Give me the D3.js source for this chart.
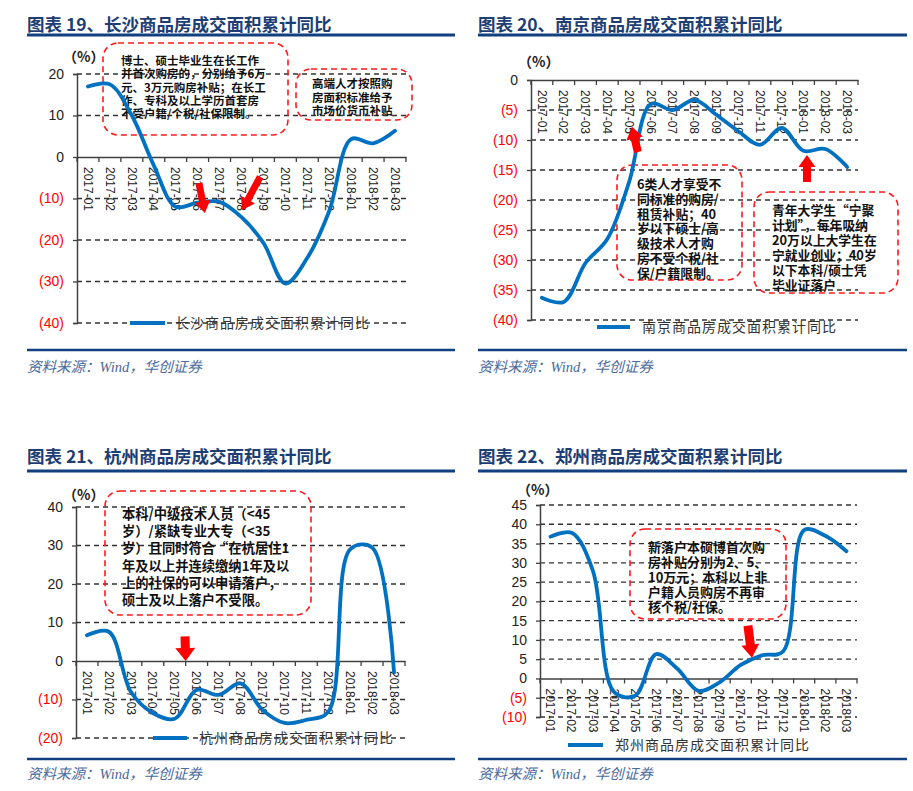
<!DOCTYPE html>
<html><head><meta charset="utf-8">
<script src="https://cdn.jsdelivr.net/npm/d3@7"></script>
<style>body{margin:0;background:#fff}svg{display:block}</style>
</head><body><svg id="c" width="913" height="791"></svg>
<script>
const categories = ["2017-01","2017-02","2017-03","2017-04","2017-05","2017-06","2017-07","2017-08","2017-09","2017-10","2017-11","2017-12","2018-01","2018-02","2018-03"];
const changshaValues = [17, 17.5, 10, -2, -12, -11, -10.8, -14.5, -20.7, -30.5, -24.3, -13, 4.3, 3.3, 6.3];
const nanjingValues = [-36.3, -37, -30.5, -26.5, -17, -4, -5, -3.3, -5.8, -8.5, -10.8, -8, -11.8, -11.5, -14.5];
const hangzhouValues = [6.7, 7.6, -8, -13.5, -15, -7.5, -8.8, -5.8, -12.7, -16.1, -15.3, -13.2, 29, 29.5, -3];
const zhengzhouValues = [36.8, 37.8, 28, -3.5, -4.5, 6.3, 2.5, -3.2, -1, 3.5, 6, 7, 38.5, 37, 33];
const changshaTicks = [20, 10, 0, -10, -20, -30, -40];
const nanjingTicks = [0, -5, -10, -15, -20, -25, -30, -35, -40];
const hangzhouTicks = [40, 30, 20, 10, 0, -10, -20];
const zhengzhouTicks = [45, 40, 35, 30, 25, 20, 15, 10, 5, 0, -5, -10];
const titles = ["图表 19、长沙商品房成交面积累计同比","图表 20、南京商品房成交面积累计同比","图表 21、杭州商品房成交面积累计同比","图表 22、郑州商品房成交面积累计同比"];
const seriesNames = ["长沙商品房成交面积累计同比","南京商品房成交面积累计同比","杭州商品房成交面积累计同比","郑州商品房成交面积累计同比"];
const sourceText = "资料来源：Wind，华创证券";
const unitText = "（%）";
const notes1a = ["博士、硕士毕业生在长工作","并首次购房的，分别给予6万","元、3万元购房补贴；在长工","作、专科及以上学历首套房","不受户籍/个税/社保限制。"];
const notes1b = ["高端人才按照购","房面积标准给予","市场价货币补贴"];
const notes2a = ["6类人才享受不","同标准的购房/","租赁补贴；40","岁以下硕士/高","级技术人才购","房不受个税/社","保/户籍限制。"];
const notes2b = ["青年大学生“宁聚","计划”，每年吸纳","20万以上大学生在","宁就业创业；40岁","以下本科/硕士凭","毕业证落户"];
const notes3 = ["本科/中级技术人员（<45","岁）/紧缺专业大专（<35","岁）且同时符合“在杭居住1","年及以上并连续缴纳1年及以","上的社保的可以申请落户，","硕士及以上落户不受限。"];
const notes4 = ["新落户本硕博首次购","房补贴分别为2、5、","10万元；本科以上非","户籍人员购房不再审","核个税/社保。"];
// arrows: [tailIndex, tailValue, tipIndex, tipValue]
const arrows1 = [[5.06, -6.3, 5.33, -13.5], [7.85, -4.8, 7.03, -12.8]];
const arrows2 = [[4.4, -12, 4.13, -7.8], [12.16, -17, 12.16, -12.5]];
const arrows3 = [[4.47, 6.4, 4.5, 0]];
const arrows4 = [[9.34, 13.7, 9.53, 5.4]];

const svg = d3.select("#c");
const NAVY = "#1d3e74", BLUE = "#0070C0";
const CJK = "'Noto Sans CJK SC','Noto Sans',sans-serif";

const panels = [
  {title:titles[0], tx:27, ty:31, ruleY:35, ruleX:[27,455], left:77, right:406, top:74, bottom:323, domain:[-40,20], ticks:changshaTicks, values:changshaValues, unit:[63,62], leg:[130,165,323,175], name:seriesNames[0], sepY:350, srcY:372,
   boxes:[{x:103,y:43,w:185,h:92,tx:121,ty:65,lh:13.25,fs:11.5,lines:notes1a},{x:296,y:69,w:116,h:51,tx:312,ty:88,lh:13.5,fs:11.5,lines:notes1b}], arrows:arrows1, aw:[7,16,12]},
  {title:titles[1], tx:478, ty:31, ruleY:35, ruleX:[478,907], left:531, right:858, top:80, bottom:320, domain:[-40,0], ticks:nanjingTicks, values:nanjingValues, unit:[518,67], leg:[597,630,327,642], name:seriesNames[1], sepY:350, srcY:372,
   boxes:[{x:617,y:165,w:125,h:115,tx:637,ty:189,lh:14.8,fs:12.8,lines:notes2a},{x:754,y:192,w:144,h:101,tx:772,ty:215,lh:15,fs:12.8,lines:notes2b}], arrows:arrows2, aw:[8,17,12]},
  {title:titles[2], tx:27, ty:463, ruleY:471, ruleX:[27,455], left:76, right:405, top:507, bottom:738, domain:[-20,40], ticks:hangzhouTicks, values:hangzhouValues, unit:[63,500], leg:[153,187,738,199], name:seriesNames[2], sepY:759, srcY:779,
   boxes:[{x:105,y:491,w:206,h:124,tx:122,ty:519,lh:17.2,fs:13.3,lines:notes3}], arrows:arrows3, aw:[9,20,13]},
  {title:titles[3], tx:478, ty:463, ruleY:471, ruleX:[478,907], left:540, right:857, top:505, bottom:717, domain:[-10,45], ticks:zhengzhouTicks, values:zhengzhouValues, unit:[517,495], leg:[568,603,745,615], name:seriesNames[3], sepY:759, srcY:779,
   boxes:[{x:630,y:529,w:156,h:90,tx:648,ty:552,lh:15,fs:13,lines:notes4}], arrows:arrows4, aw:[9,18,13]}
];

function arrowPath(x1,y1,x2,y2,sw,hw,hl){
  const dx=x2-x1, dy=y2-y1, L=Math.hypot(dx,dy), ux=dx/L, uy=dy/L, px=-uy, py=ux;
  const bx=x2-ux*hl, by=y2-uy*hl;
  const pts=[[x1+px*sw/2,y1+py*sw/2],[bx+px*sw/2,by+py*sw/2],[bx+px*hw/2,by+py*hw/2],[x2,y2],[bx-px*hw/2,by-py*hw/2],[bx-px*sw/2,by-py*sw/2],[x1-px*sw/2,y1-py*sw/2]];
  return "M"+pts.map(p=>p.join(",")).join("L")+"Z";
}

panels.forEach(p=>{
  const g = svg.append("g");
  g.append("text").attr("x",p.tx).attr("y",p.ty).text(p.title)
    .attr("font-family",CJK).attr("font-weight",700).attr("font-size",17.5).attr("fill",NAVY);
  g.append("line").attr("x1",p.ruleX[0]).attr("x2",p.ruleX[1]).attr("y1",p.ruleY).attr("y2",p.ruleY).attr("stroke","#123f7f").attr("stroke-width",3);
  g.append("line").attr("x1",p.ruleX[0]).attr("x2",p.ruleX[1]).attr("y1",p.sepY).attr("y2",p.sepY).attr("stroke","#123f7f").attr("stroke-width",2.5);
  g.append("text").attr("x",p.ruleX[0]).attr("y",p.srcY).text(sourceText)
    .attr("font-family","'Liberation Serif','Noto Sans CJK SC',serif").attr("font-style","italic").attr("font-size",14.5).attr("fill","#4a6a9c");

  const x = d3.scaleBand().domain(categories).range([p.left,p.right]).padding(0);
  const xi = d3.scaleLinear().domain([-0.5,categories.length-0.5]).range([p.left,p.right]);
  const y = d3.scaleLinear().domain(p.domain).range([p.bottom,p.top]);
  const y0 = y(0);

  g.append("g").selectAll("line").data(p.ticks.filter(t=>t!==0)).join("line")
    .attr("x1",p.left).attr("x2",p.right).attr("y1",d=>y(d)).attr("y2",d=>y(d))
    .attr("stroke","#333").attr("stroke-width",1.3).attr("stroke-dasharray","5,4");

  const ya = d3.axisLeft(y).tickValues(p.ticks).tickSize(4).tickPadding(9)
    .tickFormat(d=> d<0 ? "("+Math.abs(d)+")" : String(d));
  const yg = g.append("g").attr("transform",`translate(${p.left},0)`).call(ya);
  yg.select(".domain").attr("stroke","#404040").attr("stroke-width",1.5);
  yg.selectAll(".tick line").attr("stroke","#404040").attr("stroke-width",1.3);
  yg.selectAll(".tick text").attr("font-family","'Liberation Sans',Arial,sans-serif").attr("font-size",14)
    .attr("fill",d=> d<0 ? "#ff0000" : "#222");

  const xa = d3.axisBottom(x).tickSize(0).tickFormat("");
  const xg = g.append("g").attr("transform",`translate(0,${y0})`).call(xa);
  xg.select(".domain").attr("stroke","#404040").attr("stroke-width",1.5);
  const bounds = d3.range(categories.length+1).map(i=>xi(i-0.5));
  g.append("g").selectAll("line").data(bounds).join("line")
    .attr("x1",d=>d).attr("x2",d=>d).attr("y1",y0).attr("y2",y0+5)
    .attr("stroke","#404040").attr("stroke-width",1.3);
  g.append("g").selectAll("text").data(categories).join("text")
    .attr("transform",d=>`translate(${x(d)+x.bandwidth()/2},${y0+10}) rotate(90)`)
    .attr("dy","0.36em").attr("text-anchor","start").text(d=>d)
    .attr("font-family","'Liberation Sans',Arial,sans-serif").attr("font-size",12).attr("fill","#222");

  g.append("text").attr("x",p.unit[0]).attr("y",p.unit[1]).text(unitText)
    .attr("font-family",CJK).attr("font-weight",700).attr("font-size",14).attr("fill","#222");

  p.boxes.forEach(b=>{
    g.append("rect").attr("x",b.x).attr("y",b.y).attr("width",b.w).attr("height",b.h).attr("rx",15)
      .attr("fill","none").attr("stroke","#ff1a1a").attr("stroke-width",1.6).attr("stroke-dasharray","6,4");
    g.append("g").selectAll("text").data(b.lines).join("text")
      .attr("x",b.tx).attr("y",(d,i)=>b.ty+i*b.lh).text(d=>d)
      .attr("font-family",CJK).attr("font-weight",700).attr("font-size",b.fs).attr("fill","#111");
  });

  const line = d3.line().x((d,i)=>x(categories[i])+x.bandwidth()/2).y(d=>y(d)).curve(d3.curveCatmullRom.alpha(0.5));
  g.append("path").datum(p.values).attr("d",line).attr("fill","none").attr("stroke",BLUE).attr("stroke-width",3.8).attr("stroke-linecap","round");

  p.arrows.forEach(a=>{
    g.append("path").attr("d",arrowPath(xi(a[0]),y(a[1]),xi(a[2]),y(a[3]),p.aw[0],p.aw[1],p.aw[2])).attr("fill","#ff0000");
  });

  g.append("line").attr("x1",p.leg[0]).attr("x2",p.leg[1]).attr("y1",p.leg[2]).attr("y2",p.leg[2]).attr("stroke",BLUE).attr("stroke-width",4);
  g.append("text").attr("x",p.leg[3]).attr("y",p.leg[2]).attr("dy","0.36em").text(p.name)
    .attr("font-family",CJK).attr("font-size",14).attr("letter-spacing",1).attr("fill","#333");
});
</script></body></html>
